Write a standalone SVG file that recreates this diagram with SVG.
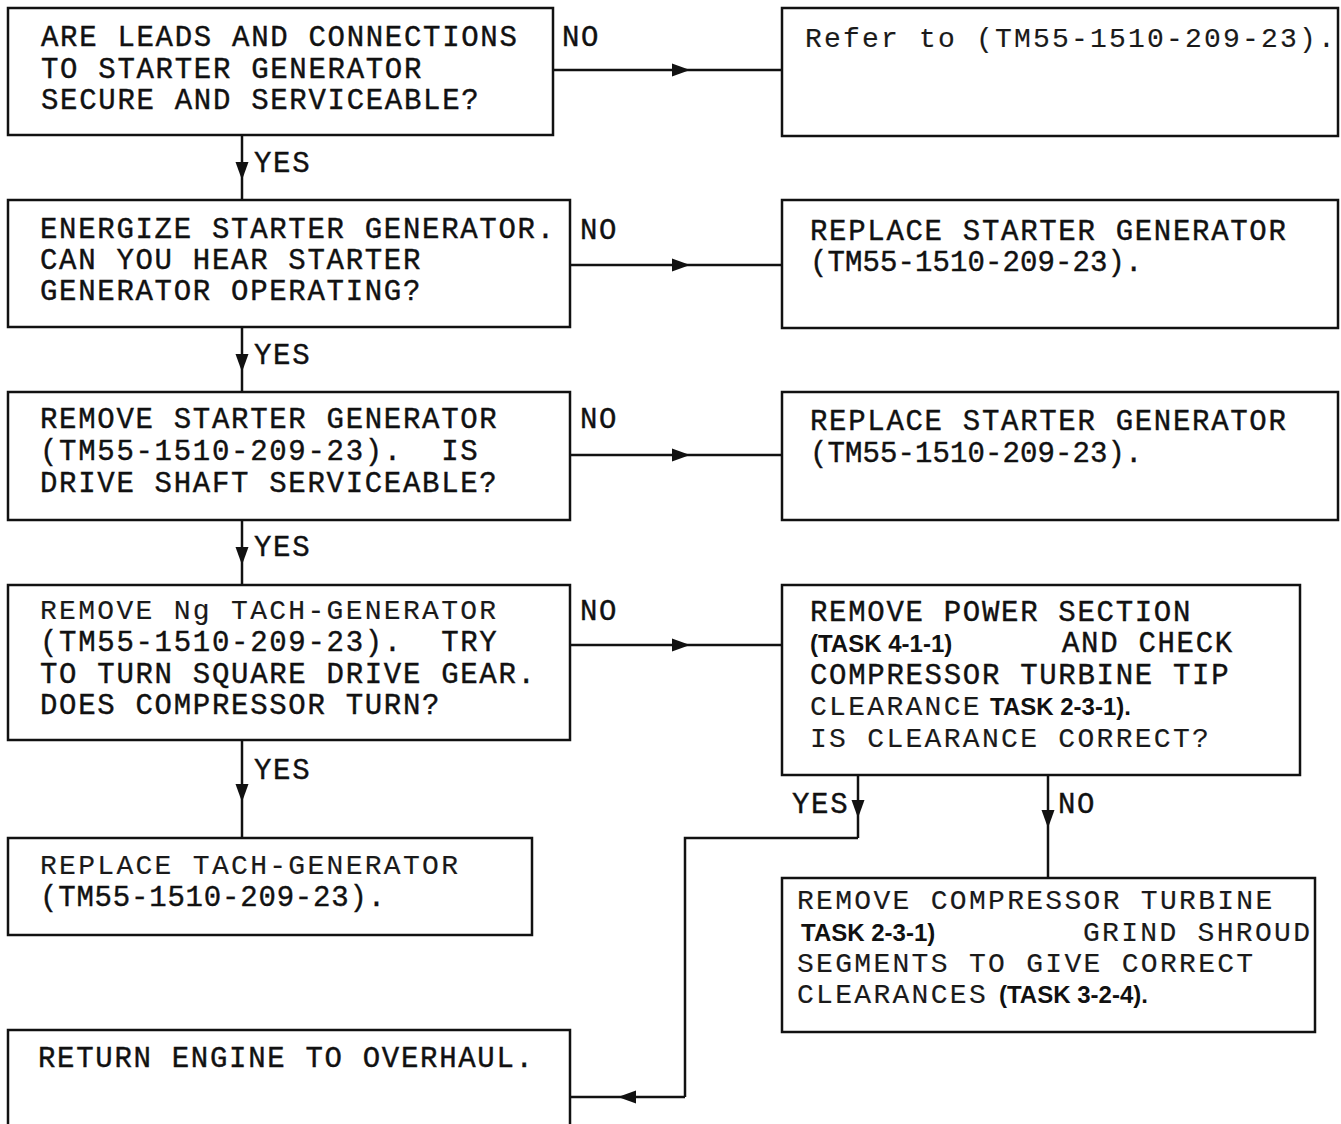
<svg xmlns="http://www.w3.org/2000/svg" width="1341" height="1124" viewBox="0 0 1341 1124">
<style>
.box{fill:none;stroke:#111;stroke-width:2.5}
.ln{fill:none;stroke:#111;stroke-width:2.5}
.t{font-family:"Liberation Mono","DejaVu Sans Mono",monospace;font-size:29px;letter-spacing:1.7px;fill:#111;stroke:#111;stroke-width:0.4}
.th{font-family:"Liberation Mono","DejaVu Sans Mono",monospace;font-size:28px;letter-spacing:2.3px;fill:#1a1a1a;stroke:#1a1a1a;stroke-width:0.15}
.b{font-family:"Liberation Sans",Arial,sans-serif;font-weight:bold;font-size:24px;fill:#111}
.nr{letter-spacing:0.1px}
</style>
<defs>
<marker id="ah" markerUnits="userSpaceOnUse" markerWidth="20" markerHeight="14" viewBox="-19 -7 20 14" refX="0" refY="0" orient="auto">
<path d="M0,0 L-18,-6.5 L-18,6.5 Z" fill="#111"/>
</marker>
</defs>
<g id="connectors">
<path class="ln" d="M553,70 L690,70 L782,70" marker-mid="url(#ah)"/>
<path class="ln" d="M570,265 L690,265 L782,265" marker-mid="url(#ah)"/>
<path class="ln" d="M570,455 L690,455 L782,455" marker-mid="url(#ah)"/>
<path class="ln" d="M570,645 L690,645 L782,645" marker-mid="url(#ah)"/>
<path class="ln" d="M242,135 L242,180 L242,200" marker-mid="url(#ah)"/>
<path class="ln" d="M242,327 L242,372 L242,392" marker-mid="url(#ah)"/>
<path class="ln" d="M242,520 L242,565 L242,585" marker-mid="url(#ah)"/>
<path class="ln" d="M242,740 L242,802 L242,838" marker-mid="url(#ah)"/>
<path class="ln" d="M858,775 L858,818 L858,838" marker-mid="url(#ah)"/>
<path class="ln" d="M858,838 L685,838 L685,1097"/>
<path class="ln" d="M685,1097 L618,1097 L570,1097" marker-mid="url(#ah)"/>
<path class="ln" d="M1048,775 L1048,828 L1048,878" marker-mid="url(#ah)"/>
<text class="t" x="562" y="46">NO</text>
<text class="t" x="254" y="172">YES</text>
<text class="t" x="580" y="239">NO</text>
<text class="t" x="254" y="364">YES</text>
<text class="t" x="580" y="428">NO</text>
<text class="t" x="254" y="556">YES</text>
<text class="t" x="580" y="620">NO</text>
<text class="t" x="254" y="779">YES</text>
<text class="t" x="792" y="813">YES</text>
<text class="t" x="1058" y="813">NO</text>
</g>
<g id="n1">
<rect class="box" x="8" y="8" width="545" height="127"/>
<text class="t" x="41" y="46">ARE LEADS AND CONNECTIONS</text>
<text class="t" x="41" y="78">TO STARTER GENERATOR</text>
<text class="t" x="41" y="109">SECURE AND SERVICEABLE?</text>
</g>
<g id="r1">
<rect class="box" x="782" y="8" width="556" height="128"/>
<text class="th" x="805" y="47" style="letter-spacing:2.2px">Refer to (TM55-1510-209-23).</text>
</g>
<g id="n2">
<rect class="box" x="8" y="200" width="562" height="127"/>
<text class="t" x="40" y="238">ENERGIZE STARTER GENERATOR.</text>
<text class="t" x="40" y="269">CAN YOU HEAR STARTER</text>
<text class="t" x="40" y="300">GENERATOR OPERATING?</text>
</g>
<g id="r2">
<rect class="box" x="782" y="200" width="556" height="128"/>
<text class="t" x="810" y="240">REPLACE STARTER GENERATOR</text>
<text class="t nr" x="810" y="271">(TM55-1510-209-23).</text>
</g>
<g id="n3">
<rect class="box" x="8" y="392" width="562" height="128"/>
<text class="t" x="40" y="428">REMOVE STARTER GENERATOR</text>
<text class="t" x="40" y="460" xml:space="preserve">(TM55-1510-209-23).  IS</text>
<text class="t" x="40" y="492">DRIVE SHAFT SERVICEABLE?</text>
</g>
<g id="r3">
<rect class="box" x="782" y="392" width="556" height="128"/>
<text class="t" x="810" y="430">REPLACE STARTER GENERATOR</text>
<text class="t nr" x="810" y="462">(TM55-1510-209-23).</text>
</g>
<g id="n4">
<rect class="box" x="8" y="585" width="562" height="155"/>
<text class="th" x="40" y="619">REMOVE Ng TACH-GENERATOR</text>
<text class="t" x="40" y="651" xml:space="preserve">(TM55-1510-209-23).  TRY</text>
<text class="t" x="40" y="683">TO TURN SQUARE DRIVE GEAR.</text>
<text class="t" x="40" y="714">DOES COMPRESSOR TURN?</text>
</g>
<g id="r4">
<rect class="box" x="782" y="585" width="518" height="190"/>
<text class="t" x="810" y="621">REMOVE POWER SECTION</text>
<text class="b" x="810" y="652">(TASK 4-1-1)</text>
<text class="t" x="1062" y="652">AND CHECK</text>
<text class="t" x="810" y="684">COMPRESSOR TURBINE TIP</text>
<text class="th" x="810" y="715">CLEARANCE</text>
<text class="b" x="990" y="715">TASK 2-3-1).</text>
<text class="th" x="810" y="747">IS CLEARANCE CORRECT?</text>
</g>
<g id="n5">
<rect class="box" x="8" y="838" width="524" height="97"/>
<text class="th" x="40" y="874">REPLACE TACH-GENERATOR</text>
<text class="t" x="40" y="906" style="letter-spacing:0.8px">(TM55-1510-209-23).</text>
</g>
<g id="r5">
<rect class="box" x="782" y="878" width="533" height="154"/>
<text class="th" x="797" y="909">REMOVE COMPRESSOR TURBINE</text>
<text class="b" x="801" y="941">TASK 2-3-1)</text>
<text class="th" x="1083" y="941">GRIND SHROUD</text>
<text class="th" x="797" y="972">SEGMENTS TO GIVE CORRECT</text>
<text class="th" x="797" y="1003">CLEARANCES</text>
<text class="b" x="999" y="1003">(TASK 3-2-4).</text>
</g>
<g id="n6">
<path class="box" d="M8,1130 L8,1030 L570,1030 L570,1130"/>
<text class="t" x="38" y="1067">RETURN ENGINE TO OVERHAUL.</text>
</g>
</svg>
